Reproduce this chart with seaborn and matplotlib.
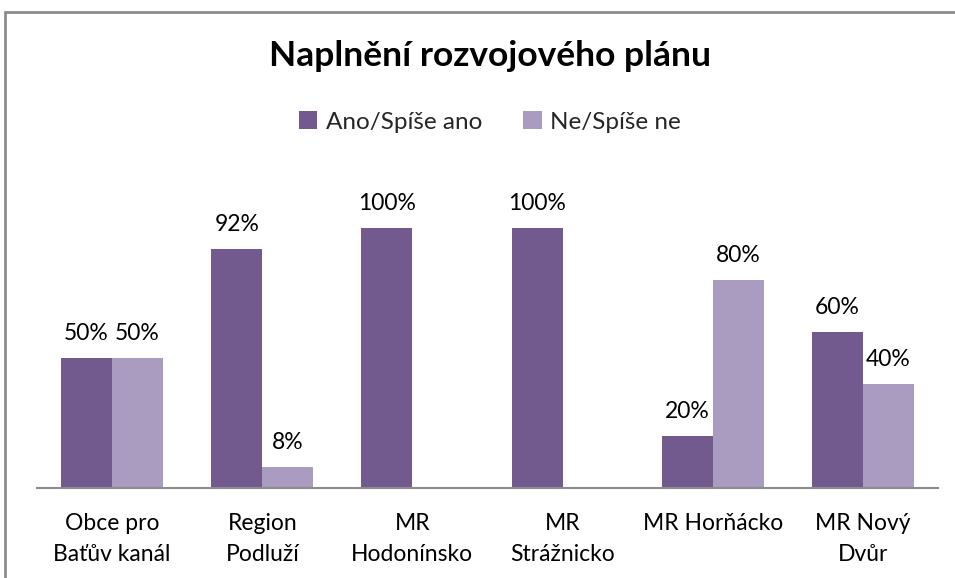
import matplotlib
matplotlib.use("Agg")
import matplotlib.pyplot as plt
import seaborn as sns
import pandas as pd
import numpy as np
from matplotlib.patches import Rectangle
from matplotlib.lines import Line2D

categories = ["Obce pro\nBaťův kanál", "Region\nPodluží", "MR\nHodonínsko",
              "MR\nStrážnicko", "MR Horňácko", "MR Nový\nDvůr"]
series_names = ["Ano/Spíše ano", "Ne/Spíše ne"]
ano_values = [0.50, 0.92, 1.00, 1.00, 0.20, 0.60]
ne_values = [0.50, 0.08, 0.00, 0.00, 0.80, 0.40]
colors = ["#725a8f", "#aa9bc0"]
title = "Naplnění rozvojového plánu"

sns.set_theme(style="white")
plt.rcParams["font.family"] = ["Lato", "DejaVu Sans"]

df = pd.DataFrame({
    "kategorie": categories * 2,
    "serie": [series_names[0]] * len(categories) + [series_names[1]] * len(categories),
    "hodnota": ano_values + ne_values,
})

W, H = 955, 578
fig = plt.figure(figsize=(W / 100, H / 100), dpi=100)
# axes in pixel coordinates: left 37, right 938, bottom 488, top 150
left, right, bottom, top = 37, 938, 488, 150
ax = fig.add_axes([left / W, 1 - bottom / H, (right - left) / W, (bottom - top) / H])

sns.barplot(data=df, x="kategorie", y="hodnota", hue="serie", palette=colors,
            width=0.68, gap=0, saturation=1, ax=ax, legend=False,
            edgecolor="none", linewidth=0)

ax.set_xlim(-0.5, len(categories) - 0.5)
ax.set_ylim(0, (bottom - top) / 260)
ax.set_yticks([])
ax.set_xlabel("")
ax.set_ylabel("")
for s in ["top", "right", "left"]:
    ax.spines[s].set_visible(False)
ax.spines["bottom"].set_color("#8c8c8c")
ax.spines["bottom"].set_linewidth(1.5)
ax.tick_params(axis="x", length=0, pad=18, labelsize=16.5, colors="black")
for lbl in ax.get_xticklabels():
    lbl.set_linespacing(1.6)

for cont in ax.containers:
    labels = [f"{v*100:.0f}%" if v > 0 else "" for v in cont.datavalues]
    ax.bar_label(cont, labels=labels, padding=10, fontsize=16.5, color="black")

fig.text(490 / W, 1 - 56 / H, title, ha="center", va="center",
         fontsize=25.5, fontweight="bold", color="black")

handles = [Rectangle((0, 0), 1, 1, facecolor=c, edgecolor="none") for c in colors]
fig.legend(handles, series_names, loc="center", bbox_to_anchor=(490 / W, 1 - 122 / H),
           ncol=2, frameon=False, fontsize=17.5, handlelength=0.75, handleheight=0.75,
           handletextpad=0.35, columnspacing=1.7)

# outer chart border (partially visible)
fig.add_artist(Line2D([5 / W, 5 / W], [0, 1 - 12 / H], transform=fig.transFigure,
                      color="#8c8c8c", linewidth=2))
fig.add_artist(Line2D([5 / W, 1], [1 - 12 / H, 1 - 12 / H], transform=fig.transFigure,
                      color="#8c8c8c", linewidth=2))

fig.savefig("out.png", dpi=100)
